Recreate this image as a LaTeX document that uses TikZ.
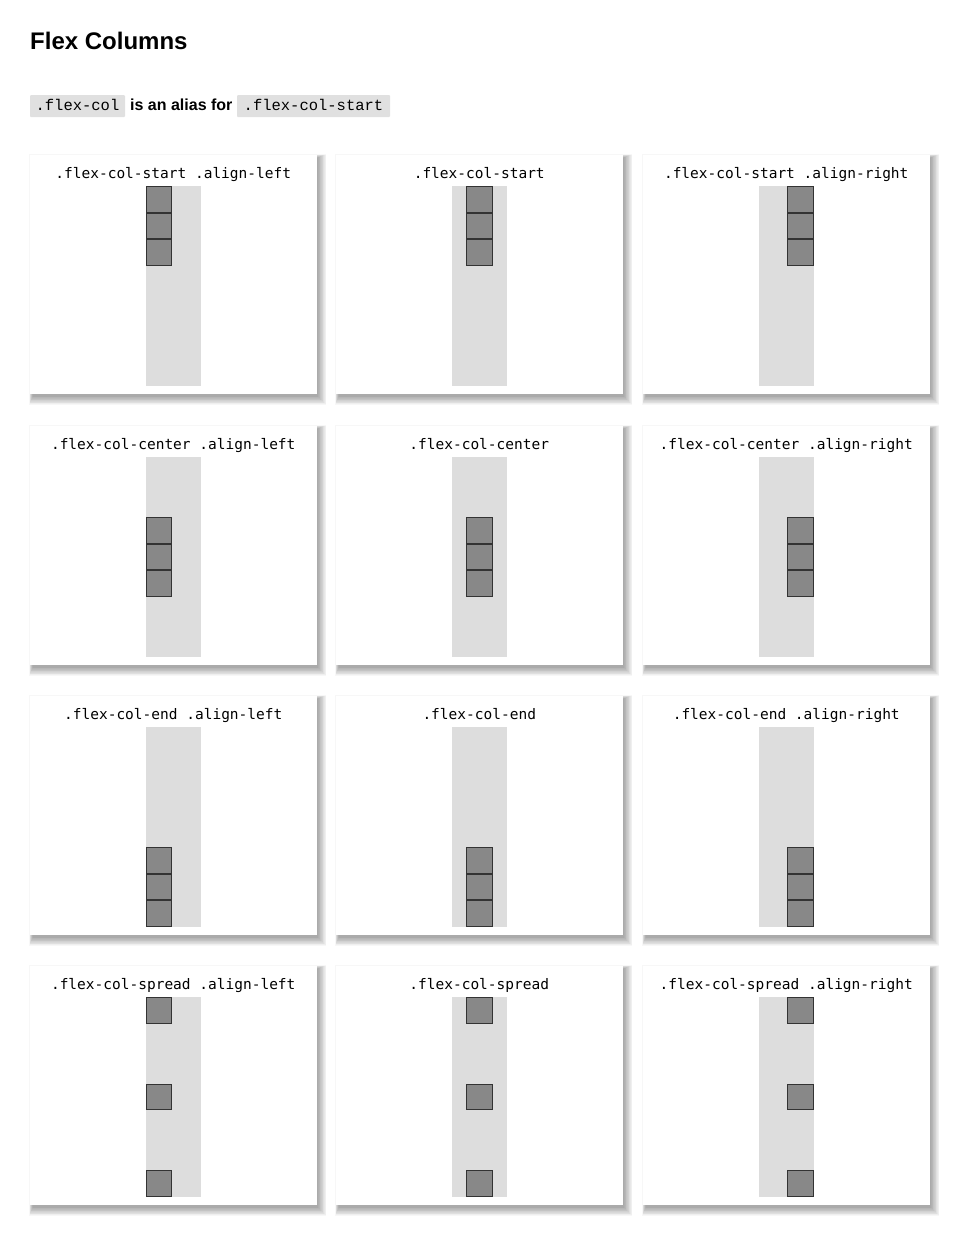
\documentclass[tikz,border=0pt]{standalone}
\usepackage{fontspec}
\setmainfont{Liberation Sans}
\newfontfamily\codefont{DejaVu Sans Mono}
\newfontfamily\aliasfont{Liberation Mono}
\definecolor{colbg}{HTML}{DDDDDD}
\definecolor{itemfill}{HTML}{888888}
\definecolor{itemline}{HTML}{333333}
\definecolor{codebg}{HTML}{E0E0E0}
\tikzset{
  card/.style={fill=white, draw=none},
  shadowlayer/.style={fill=black, opacity=0.03, draw=none},
  colbox/.style={fill=colbg, draw=none},
  itembox/.style={fill=itemfill, draw=itemline, line width=1pt},
  cardlabel/.style={font=\codefont\fontsize{14.5}{17}\selectfont, inner sep=0pt, anchor=base},
  codebox/.style={fill=codebg, draw=none, rounded corners=1pt},
  codetext/.style={font=\aliasfont\fontsize{15.5}{18}\selectfont, inner sep=0pt, anchor=base},
}
\begin{document}
\begin{tikzpicture}[x=1pt,y=-1pt]
\useasboundingbox[fill=white] (0,0) rectangle (957,1240);
% title
\node[font=\bfseries\fontsize{24}{28}\selectfont, anchor=base west, inner sep=0pt] (title) at (30,49) {Flex Columns};
% alias line
\fill[codebox] (30,95) rectangle (125,117);
\node[codetext] (alias1) at (77.5,110) {.flex-col};
\node[font=\bfseries\fontsize{16}{19}\selectfont, anchor=base west, inner sep=0pt] (aliastxt) at (130,110.5) {is an alias for};
\fill[codebox] (237,95) rectangle (390,117);
\node[codetext] (alias2) at (313.5,110) {.flex-col-start};
% cards
\def\cardw{286.5}
\def\cardh{239}
\def\sq{26.67}
\foreach \row/\top/\kind in {1/155/start,2/426/center,3/696/end,4/966/spread}{
  \foreach \col/\left/\al in {1/30/left,2/336/none,3/643/right}{
    \pgfmathsetmacro{\cx}{\left+\cardw/2}
    \pgfmathsetmacro{\ctop}{\top+31}
    \pgfmathsetmacro{\cbot}{\top+231}
    \pgfmathsetmacro{\cleft}{\cx-27.5}
    \pgfmathsetmacro{\cright}{\cx+27.5}
    \pgfmathsetmacro{\cr}{\left+\cardw}
    \pgfmathsetmacro{\cb}{\top+\cardh}
    % shadow
    \foreach \s in {0,...,11}{
      \fill[shadowlayer] (\left+2.5-\s*0.3,\top+2.5-\s*0.3) rectangle (\cr+1.5+\s*0.75,\cb+2.5+\s*0.75);
    }
    % card
    \path[card] (\left,\top) rectangle (\cr,\cb);
    \fill[colbox] (\cleft,\ctop) rectangle (\cright,\cbot);
    \coordinate (col-\row-\col) at (\cleft,\ctop);
    % label
    \ifnum\col=2
      \node[cardlabel] (lab-\row-\col) at (\cx,178) [yshift=-\top pt+155pt] {.flex-col-\kind};
    \else
      \node[cardlabel] (lab-\row-\col) at (\cx,178) [yshift=-\top pt+155pt] {.flex-col-\kind\ .align-\al};
    \fi
    % item x
    \ifnum\col=1 \pgfmathsetmacro{\ix}{\cleft}\fi
    \ifnum\col=2 \pgfmathsetmacro{\ix}{\cleft+(55-\sq)/2}\fi
    \ifnum\col=3 \pgfmathsetmacro{\ix}{\cright-\sq}\fi
    % items
    \ifnum\row=1
      \foreach \k in {0,1,2}{\pgfmathsetmacro{\iy}{\ctop+\k*\sq}
        \draw[itembox] (\ix+0.5,\iy+0.5) rectangle ++(\sq-1,\sq-1);}
    \fi
    \ifnum\row=2
      \foreach \k in {0,1,2}{\pgfmathsetmacro{\iy}{\ctop+100-1.5*\sq+\k*\sq}
        \draw[itembox] (\ix+0.5,\iy+0.5) rectangle ++(\sq-1,\sq-1);}
    \fi
    \ifnum\row=3
      \foreach \k in {0,1,2}{\pgfmathsetmacro{\iy}{\cbot-3*\sq+\k*\sq}
        \draw[itembox] (\ix+0.5,\iy+0.5) rectangle ++(\sq-1,\sq-1);}
    \fi
    \ifnum\row=4
      \foreach \k in {0,1,2}{\pgfmathsetmacro{\iy}{\ctop+\k*(200-\sq)/2}
        \draw[itembox] (\ix+0.5,\iy+0.5) rectangle ++(\sq-1,\sq-1);}
    \fi
  }
}
\end{tikzpicture}
\end{document}
